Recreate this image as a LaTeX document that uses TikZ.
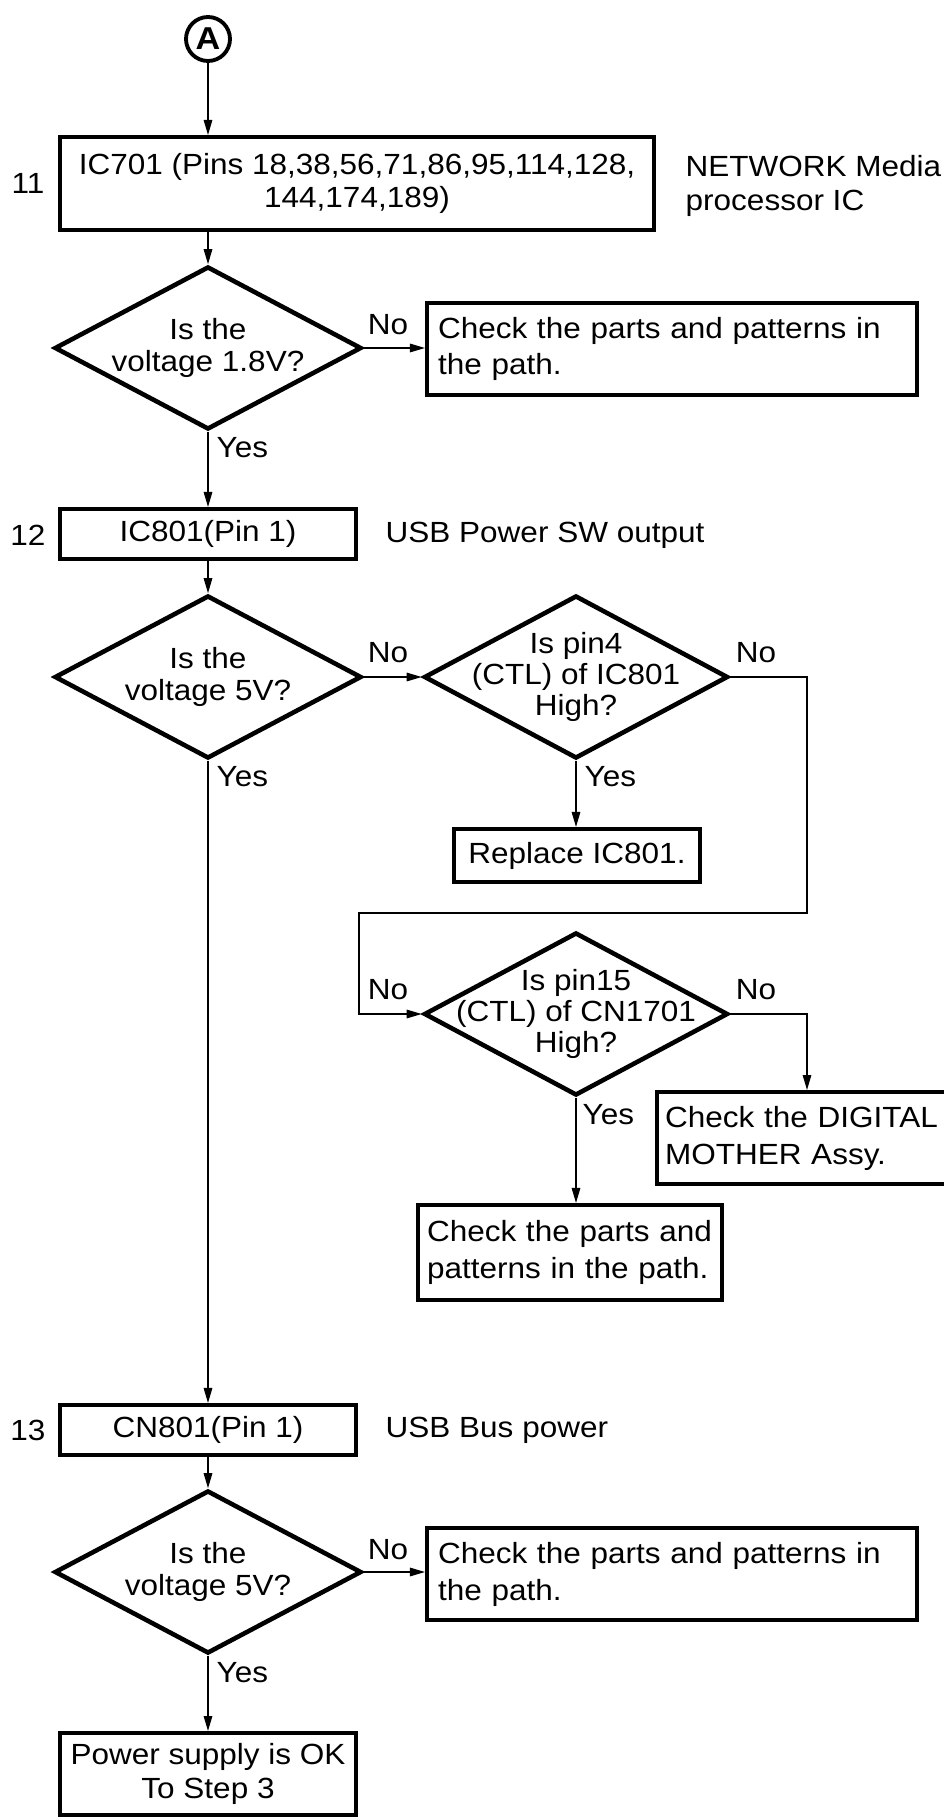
\documentclass[tikz,border=0pt]{standalone}
\usepackage{fontspec}
\setmainfont{Liberation Sans}[FakeStretch=1.08]
\usepackage{tikz}
\usetikzlibrary{shapes.geometric, arrows.meta, positioning, calc}
\newcommand{\chartfont}{\fontsize{8.3}{9.6}\selectfont}
\tikzset{
  box/.style={rectangle, draw, line width=1.15pt, align=center,
    inner sep=0pt, font=\chartfont},
  notebox/.style={box, align=left, inner xsep=0.11cm,
    font=\fontsize{8.3}{10.5}\selectfont},
  decision/.style={diamond, draw, line width=1.3pt, inner sep=0pt,
    minimum width=3.07cm, minimum height=1.63cm},
  qtext/.style={align=center, font=\fontsize{8.3}{8.9}\selectfont},
  tag/.style={font=\chartfont, inner sep=0pt},
  sidenote/.style={font=\chartfont, align=left, anchor=west, inner sep=0pt},
  arrow/.style={-{Triangle[length=1.5mm, width=0.85mm]}, line width=0.4pt},
  line/.style={line width=0.4pt}
}

\begin{document}
\begin{tikzpicture}
  \useasboundingbox (0,0) rectangle (9.43,-18.19);

  % connector A
  \node[circle, draw, line width=1.1pt, minimum size=0.44cm, inner sep=0pt,
    font=\fontsize{9}{9}\selectfont\bfseries] (a) at (2.08,-0.39) {A};

  % step 11
  \node[box, minimum width=5.94cm, minimum height=0.93cm] (ic701) at (3.57,-1.835)
    {IC701 (Pins 18,38,56,71,86,95,114,128,\\144,174,189)};
  \node[tag] (n11) at (0.28,-1.83) {11};
  \node[sidenote] (net) at (6.85,-1.86) {NETWORK Media\\processor IC};

  \node[decision, label={[qtext]center:Is the\\voltage 1.8V?}] (q1) at (2.08,-3.48) {};
  \node[notebox, text width=4.68cm, minimum height=0.92cm] (chk1) at (6.72,-3.49)
    {Check the parts and patterns in\\the path.};

  % step 12
  \node[box, minimum width=2.96cm, minimum height=0.50cm] (ic801) at (2.08,-5.34) {IC801(Pin 1)};
  \node[tag] (n12) at (0.28,-5.35) {12};
  \node[sidenote] (usbsw) at (3.85,-5.35) {USB Power SW output};

  \node[decision, label={[qtext]center:Is the\\voltage 5V?}] (q2) at (2.08,-6.77) {};
  \node[decision, minimum width=3.04cm,
    label={[qtext]center:Is pin4\\(CTL) of IC801\\High?}] (q3) at (5.76,-6.77) {};
  \node[box, minimum width=2.46cm, minimum height=0.53cm] (repl) at (5.77,-8.555) {Replace IC801.};

  \node[decision, minimum width=3.04cm,
    label={[qtext]center:Is pin15\\(CTL) of CN1701\\High?}] (q4) at (5.76,-10.14) {};
  \node[notebox, text width=3.3cm, minimum height=0.92cm, inner xsep=0.08cm,
    anchor=north west] (digital) at (6.55,-10.90) {Check the DIGITAL\\MOTHER Assy.};
  \node[notebox, text width=2.86cm, minimum height=0.95cm, inner xsep=0.09cm] (chk2)
    at (5.70,-12.525) {Check the parts and\\patterns in the path.};

  % step 13
  \node[box, minimum width=2.96cm, minimum height=0.50cm] (cn801) at (2.08,-14.30) {CN801(Pin 1)};
  \node[tag] (n13) at (0.28,-14.30) {13};
  \node[sidenote] (usbbus) at (3.85,-14.30) {USB Bus power};

  \node[decision, label={[qtext]center:Is the\\voltage 5V?}] (q5) at (2.08,-15.72) {};
  \node[notebox, text width=4.68cm, minimum height=0.92cm] (chk3) at (6.72,-15.74)
    {Check the parts and patterns in\\the path.};
  \node[box, minimum width=2.96cm, minimum height=0.82cm] (ok) at (2.08,-17.74)
    {Power supply is OK\\To Step 3};

  % branch labels
  \node[tag] (no1) at (3.88,-3.25) {No};
  \node[tag, anchor=west] (yes1) at (2.16,-4.48) {Yes};
  \node[tag] (no2) at (3.88,-6.53) {No};
  \node[tag] (no3) at (7.56,-6.53) {No};
  \node[tag, anchor=west] (yes2) at (2.16,-7.77) {Yes};
  \node[tag, anchor=west] (yes3) at (5.84,-7.77) {Yes};
  \node[tag] (no4) at (3.88,-9.90) {No};
  \node[tag] (no5) at (7.56,-9.90) {No};
  \node[tag, anchor=west] (yes4) at (5.82,-11.15) {Yes};
  \node[tag] (no6) at (3.88,-15.50) {No};
  \node[tag, anchor=west] (yes5) at (2.16,-16.73) {Yes};

  % bends of the pin4 "No" path
  \coordinate (nr) at (8.07,-9.13);
  \coordinate (nl) at (3.59,-9.13);

  % Paths
  \draw[arrow] (a) -- (a |- ic701.north);
  \draw[arrow] (a |- ic701.south) -- (q1.north);
  \draw[arrow] (q1.east) -- (q1.east -| chk1.west);
  \draw[arrow] (q1.south) -- (ic801.north);
  \draw[arrow] (ic801.south) -- (q2.north);
  \draw[arrow] (q2.east) -- (q3.west);
  \draw[arrow] (q3.south) -- (q3.south |- repl.north);
  \draw[arrow] (q3.east) -| (nr) -- (nl) |- (q4.west);
  \draw[arrow] (q4.east) -| (nr |- digital.north);
  \draw[arrow] (q4.south) -- (q4.south |- chk2.north);
  \draw[arrow] (q2.south) -- (cn801.north);
  \draw[arrow] (cn801.south) -- (q5.north);
  \draw[arrow] (q5.east) -- (q5.east -| chk3.west);
  \draw[arrow] (q5.south) -- (ok.north);
\end{tikzpicture}
\end{document}
